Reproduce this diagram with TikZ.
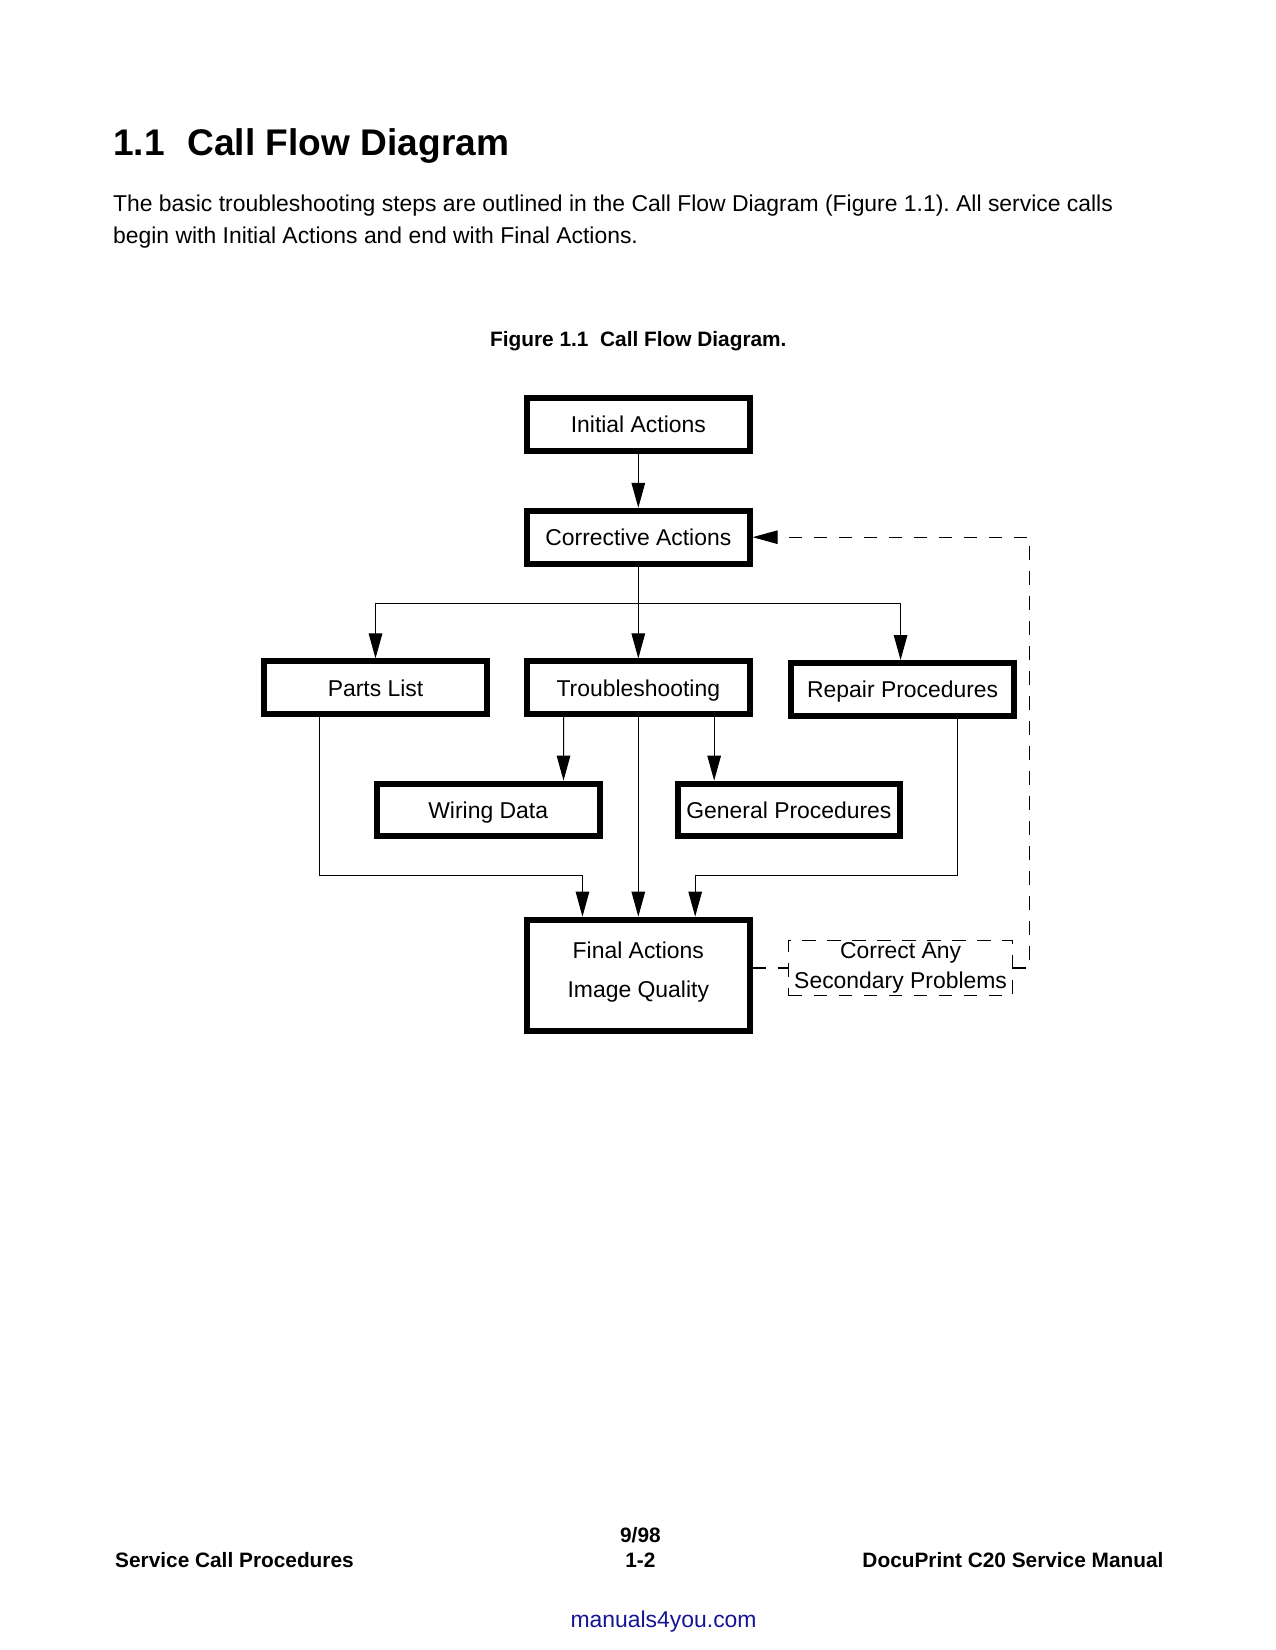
\documentclass[tikz,border=0pt]{standalone}
\usepackage{fontspec}
\setmainfont{Liberation Sans}
\usepackage{tikz}
\usetikzlibrary{arrows.meta}
\usetikzlibrary{calc}
\frenchspacing
\definecolor{linkblue}{RGB}{20,20,150}
\tikzset{
  box node/.style={rectangle,draw,line width=2.9pt,minimum width=106.9pt,minimum height=25.3pt,inner sep=1pt,align=center,font=\fontsize{11}{14.6}\selectfont},
  main node/.style={box node,text height=7.9pt,text depth=0pt},
  dash node/.style={rectangle,draw,line width=0.5pt,dash pattern=on 6.5pt off 5.5pt,minimum width=107.2pt,minimum height=26.6pt,inner sep=0.5pt,align=center,font=\fontsize{11}{14.6}\selectfont},
  page text/.style={inner sep=0pt,font=\fontsize{11}{14.6}\selectfont},
  foot text/.style={inner sep=0pt,font=\fontsize{10}{12}\selectfont\bfseries},
  link/.style={line width=0.5pt},
  dash link/.style={line width=0.5pt,dash pattern=on 6.5pt off 5.5pt}
}
\begin{document}
\begin{tikzpicture}[->,>={Triangle[length=12pt,width=6.5pt]},x=0.5056pt,y=-0.5056pt]
  \useasboundingbox (0,0) rectangle (1210.5,1566.5);
  % page text
  \node[page text,anchor=base west,font=\fontsize{17.8}{22}\selectfont\bfseries] (title) at (107,148) {1.1\hspace{11pt}Call Flow Diagram};
  \node[page text,anchor=base west] (body1) at (107,201) {The basic troubleshooting steps are outlined in the Call Flow Diagram (Figure 1.1). All service calls};
  \node[page text,anchor=base west] (body2) at (107,231) {begin with Initial Actions and end with Final Actions.};
  \node[foot text,anchor=base] (caption) at (606,329) {Figure 1.1\hspace{5.6pt}Call Flow Diagram.};
  % boxes
  \node[main node] (init)     at (606,403) {Initial Actions};
  \node[main node] (corr)     at (606,510) {Corrective Actions};
  \node[main node] (parts)    at (356.5,653) {Parts List};
  \node[main node] (trouble)  at (606,653) {Troubleshooting};
  \node[main node] (repair)   at (857,654.5) {Repair Procedures};
  \node[main node] (wiring)   at (463.5,769) {Wiring Data};
  \node[main node] (general)  at (749,769) {General Procedures};
  \node[box node,minimum height=53.5pt,text depth=5.4pt] (final) at (606,926) {Final Actions\\[4pt]Image Quality};
  \node[dash node] (secondary) at (855,919) {Correct Any\\Secondary Problems};
  % connectors
  \coordinate (split) at ($(corr.south)+(0,35)$);
  \draw[link] (init) -- (corr);
  \draw[link] (corr.south) -- (split) -| (parts.north);
  \draw[link] (corr.south) -- (trouble.north);
  \draw[link] (corr.south) -- (split) -| ($(repair.north)+(-2,0)$);
  \draw[link] ($(trouble.south)+(-71,0)$) -- ($(wiring.north)+(71.5,0)$);
  \draw[link] ($(trouble.south)+(72,0)$) -- ($(general.north)+(-71,0)$);
  \draw[link] (trouble.south) -- (final.north);
  \draw[link] ($(parts.south)+(-53.5,0)$) |- ($(final.north)+(-53,-39)$) -- ($(final.north)+(-53,0)$);
  \draw[link] ($(repair.south)+(52,0)$) |- ($(final.north)+(54,-39)$) -- ($(final.north)+(54,0)$);
  \draw[dash link,-] (final.east |- secondary.west) -- (secondary.west);
  \coordinate (turn) at ($(secondary.east)+(16,0)$);
  \draw[dash link] (secondary.east) -- (turn) |- (corr.east);
  % footer
  \node[foot text,anchor=base] (date) at (608,1464) {9/98};
  \node[foot text,anchor=base] (page) at (608,1488) {1-2};
  \node[foot text,anchor=base west] (section) at (109,1488) {Service Call Procedures};
  \node[foot text,anchor=base east] (manual) at (1105,1488) {DocuPrint C20 Service Manual};
  \node[page text,anchor=base,text=linkblue] (site) at (630,1545) {manuals4you.com};
\end{tikzpicture}
\end{document}
